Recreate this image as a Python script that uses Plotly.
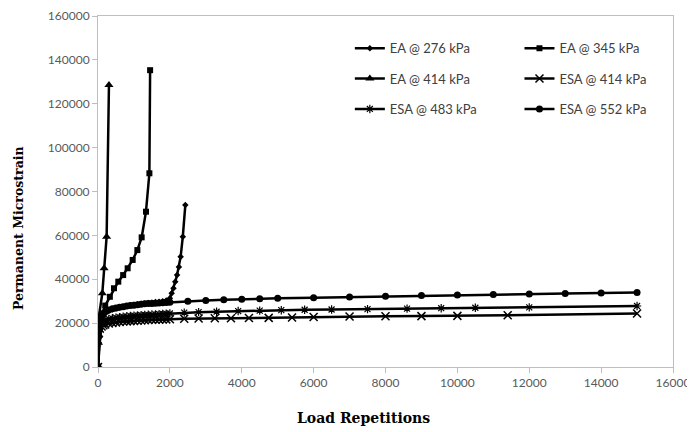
import plotly.graph_objects as go

# ---------------- data ----------------
ea276_x = [0, 25, 50, 75, 100, 150, 200, 300, 400, 500, 600, 700, 800, 900, 1000,
           1100, 1200, 1300, 1400, 1500, 1600, 1700, 1800, 1900, 2000,
           2050, 2100, 2150, 2200, 2250, 2300, 2360, 2430]
ea276_y = [0, 11000, 16500, 19500, 21500, 23500, 24500, 25500, 26200, 26700, 27100,
           27500, 27800, 28100, 28400, 28600, 28800, 29000, 29200, 29400, 29600,
           29800, 30000, 30300, 31300, 33600, 35900, 38900, 41900, 45600, 50300,
           59400, 73800]

ea345_x = [0, 100, 200, 330, 445, 565, 700, 825, 965, 1095, 1215, 1335, 1430, 1450]
ea345_y = [0, 22000, 28000, 32000, 35900, 38900, 41900, 45000, 48800, 53300,
           59100, 70800, 88300, 135300]

ea414_x = [0, 25, 120, 170, 240, 305]
ea414_y = [0, 23000, 33600, 45000, 59400, 128500]

esa414_x = [0, 10, 25, 50, 100, 150, 200, 300, 400, 500, 600, 700, 800, 900, 1000,
            1100, 1200, 1300, 1400, 1500, 1600, 1700, 1800, 1900, 2000,
            2400, 2800, 3250, 3700, 4200, 4750, 5400, 6000, 7000, 8000, 9000,
            10000, 11400, 15000]
esa414_y = [0, 12000, 15500, 17500, 18500, 19000, 19400, 19800, 20100, 20300, 20500,
            20700, 20800, 20900, 21000, 21100, 21200, 21300, 21400, 21500, 21550,
            21600, 21650, 21700, 21800, 22000, 22100, 22200, 22200, 22300, 22400,
            22600, 22800, 23000, 23100, 23200, 23300, 23600, 24400]

esa483_x = [0, 10, 25, 50, 100, 150, 200, 300, 400, 500, 600, 700, 800, 900, 1000,
            1100, 1200, 1300, 1400, 1500, 1600, 1700, 1800, 1900, 2000,
            2400, 2800, 3300, 3900, 4500, 5100, 5750, 6500, 7500, 8600, 9550,
            10500, 12000, 15000]
esa483_y = [0, 14000, 17500, 19500, 20500, 21000, 21500, 21900, 22200, 22500, 22700,
            22900, 23100, 23300, 23400, 23500, 23600, 23700, 23800, 23900, 24000,
            24100, 24200, 24300, 24400, 24800, 25000, 25200, 25500, 25700, 25900,
            26100, 26200, 26400, 26600, 26800, 27000, 27200, 27800]

esa552_x = [0, 10, 25, 50, 100, 150, 200, 300, 400, 500, 600, 700, 800, 900, 1000,
            1100, 1200, 1300, 1400, 1500, 1600, 1700, 1800, 1900, 2000,
            2500, 3000, 3500, 4000, 4500, 5000, 6000, 7000, 8000, 9000, 10000,
            11000, 12000, 13000, 14000, 15000]
esa552_y = [0, 15000, 19500, 22000, 23500, 24500, 25200, 26000, 26500, 26900, 27200,
            27500, 27800, 28000, 28200, 28400, 28600, 28800, 28900, 29000, 29100,
            29200, 29300, 29400, 29500, 30000, 30300, 30600, 30900, 31100, 31300,
            31600, 31900, 32300, 32600, 32800, 33000, 33300, 33500, 33700, 34000]

series_names = ["EA @ 276 kPa", "EA @ 345 kPa", "EA @ 414 kPa",
                "ESA @ 414 kPa", "ESA @ 483 kPa", "ESA @ 552 kPa"]

x_ticks = [0, 2000, 4000, 6000, 8000, 10000, 12000, 14000, 16000]
y_ticks = [0, 20000, 40000, 60000, 80000, 100000, 120000, 140000, 160000]

# ---------------- figure ----------------
fig = go.Figure()

specs = [
    (ea276_x, ea276_y, series_names[0], dict(symbol="diamond", size=5), "legend"),
    (ea414_x, ea414_y, series_names[2], dict(symbol="triangle-up", size=8), "legend"),
    (esa483_x, esa483_y, series_names[4], dict(symbol="asterisk-open", size=7,
                                                line=dict(width=1.2, color="black")), "legend"),
    (ea345_x, ea345_y, series_names[1], dict(symbol="square", size=6), "legend2"),
    (esa414_x, esa414_y, series_names[3], dict(symbol="x-thin-open", size=8,
                                                line=dict(width=1.5, color="black")), "legend2"),
    (esa552_x, esa552_y, series_names[5], dict(symbol="circle", size=7), "legend2"),
]

for i, (xs, ys, name, mk, lg) in enumerate(specs):
    mk = dict(mk)
    mk["color"] = "black"
    fig.add_trace(go.Scatter(
        x=xs, y=ys, name=name, mode="lines+markers",
        line=dict(color="black", width=2.5),
        marker=mk, legend=lg, legendgroup=str(i),
    ))

tick_font = dict(family="Lato, Open Sans, sans-serif", size=12, color="#595959")
legend_font = dict(family="Lato, Open Sans, sans-serif", size=13, color="#404040")

# the page body adds an 8px offset, so the figure is sized 8px smaller
fig.update_layout(
    width=687, height=424,
    margin=dict(l=90, r=22, t=8, b=65),
    paper_bgcolor="white", plot_bgcolor="white",
    showlegend=True,
    legend=dict(x=0.438, y=0.951, xanchor="left", yanchor="top",
                bgcolor="rgba(0,0,0,0)", font=legend_font,
                traceorder="grouped", tracegroupgap=10.5, itemwidth=30),
    legend2=dict(x=0.733, y=0.951, xanchor="left", yanchor="top",
                 bgcolor="rgba(0,0,0,0)", font=legend_font,
                 traceorder="grouped", tracegroupgap=10.5, itemwidth=30),
    xaxis=dict(range=[0, 16000], tickvals=x_ticks, ticktext=[str(v) for v in x_ticks],
               showgrid=False, zeroline=False, showline=True, linecolor="#bfbfbf",
               linewidth=1, mirror=True, ticks="outside", ticklen=5, automargin=False,
               tickcolor="#bfbfbf", tickfont=tick_font),
    yaxis=dict(range=[0, 160000], tickvals=y_ticks, ticktext=[str(v) for v in y_ticks],
               showgrid=False, zeroline=False, showline=True, linecolor="#bfbfbf",
               linewidth=1, mirror=True, ticks="outside", ticklen=5, automargin=False,
               tickcolor="#bfbfbf", tickfont=tick_font),
    annotations=[
        dict(text="<b>Load Repetitions</b>", xref="paper", yref="paper",
             x=0.461, y=-0.145, xanchor="center", yanchor="middle", showarrow=False,
             font=dict(family="DejaVu Serif, serif", size=14, color="black")),
        dict(text="<b>Permanent Microstrain</b>", xref="paper", yref="paper",
             x=-0.138, y=0.395, xanchor="center", yanchor="middle", showarrow=False,
             textangle=-90,
             font=dict(family="DejaVu Serif, serif", size=12.5, color="black")),
    ],
)

fig.write_html("out.html")
